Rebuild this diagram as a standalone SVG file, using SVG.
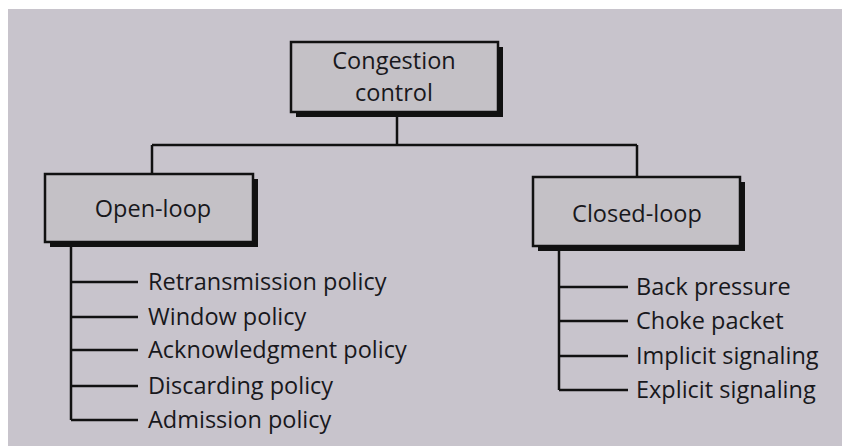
<svg xmlns="http://www.w3.org/2000/svg" width="842" height="446" viewBox="0 0 842 446">
  <defs>
    <style>
      .bg { fill: #c8c4cc; }
      .shadow { fill: #111; }
      .box { fill: #c4c1c6; stroke: #111; stroke-width: 2.5; }
      .title { font-family: "Open Sans", "Noto Sans", sans-serif; font-size: 23.5px; fill: #18181c; text-anchor: middle; }
      .item { font-family: "Open Sans", "Noto Sans", sans-serif; font-size: 23.5px; fill: #18181c; }
      .conn { fill: none; stroke: #111; stroke-width: 2.5; }
    </style>
  </defs>
  <rect x="0" y="0" width="842" height="446" fill="#ffffff"/>
  <rect class="bg" x="8" y="9" width="834" height="437"/>

  <g id="connectors">
    <path class="conn" d="M397 112 V145 M152 145 H637 M152 145 V174 M637 145 V177"/>
    <path class="conn" d="M71 247 V420 M71 282 H138 M71 317 H138 M71 350 H138 M71 386 H138 M71 420 H138"/>
    <path class="conn" d="M559 251 V390 M559 287 H628 M559 321 H628 M559 356 H628 M559 390 H628"/>
  </g>

  <g id="congestion-control">
    <rect class="shadow" x="296" y="47" width="207" height="70"/>
    <rect class="box" x="291" y="42" width="207" height="70"/>
    <text class="title" x="394" y="69">Congestion</text>
    <text class="title" x="394" y="101">control</text>
  </g>

  <g id="open-loop">
    <rect class="shadow" x="50" y="179" width="208" height="68"/>
    <rect class="box" x="45" y="174" width="208" height="68"/>
    <text class="title" x="153" y="217">Open-loop</text>
  </g>

  <g id="closed-loop">
    <rect class="shadow" x="538" y="182" width="207" height="69"/>
    <rect class="box" x="533" y="177" width="207" height="69"/>
    <text class="title" x="637" y="222">Closed-loop</text>
  </g>

  <g id="open-loop-items">
    <text class="item" x="148" y="290">Retransmission policy</text>
    <text class="item" x="148" y="325">Window policy</text>
    <text class="item" x="148" y="358">Acknowledgment policy</text>
    <text class="item" x="148" y="394">Discarding policy</text>
    <text class="item" x="148" y="428">Admission policy</text>
  </g>

  <g id="closed-loop-items">
    <text class="item" x="636" y="295">Back pressure</text>
    <text class="item" x="636" y="329">Choke packet</text>
    <text class="item" x="636" y="364">Implicit signaling</text>
    <text class="item" x="636" y="398">Explicit signaling</text>
  </g>
</svg>
